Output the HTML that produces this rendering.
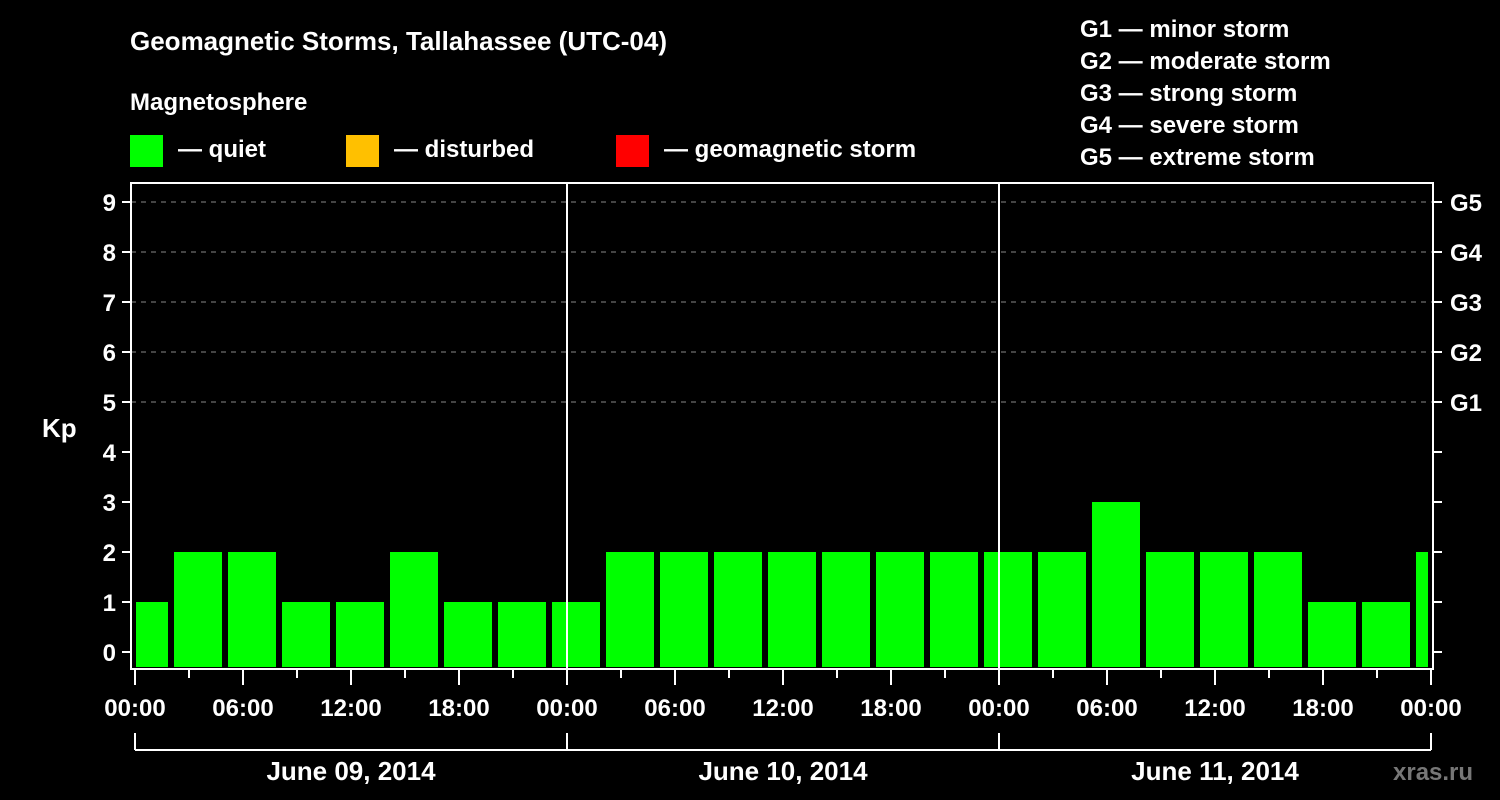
<!DOCTYPE html>
<html><head><meta charset="utf-8"><style>
html,body{margin:0;padding:0;background:#000;width:1500px;height:800px;overflow:hidden}
svg{display:block;font-family:"Liberation Sans",sans-serif;font-weight:bold}
</style></head><body>
<svg id="chart" width="1500" height="800" viewBox="0 0 1500 800">
<text x="130" y="50" fill="#fff" font-size="26">Geomagnetic Storms, Tallahassee (UTC-04)</text>
<text x="130" y="110" fill="#fff" font-size="24">Magnetosphere</text>
<g><rect x="130" y="135" width="33" height="32" fill="#00ff00"/><text x="178" y="157" fill="#fff" font-size="24">— quiet</text></g>
<g><rect x="346" y="135" width="33" height="32" fill="#ffc000"/><text x="394" y="157" fill="#fff" font-size="24">— disturbed</text></g>
<g><rect x="616" y="135" width="33" height="32" fill="#ff0000"/><text x="664" y="157" fill="#fff" font-size="24">— geomagnetic storm</text></g>
<g fill="#fff" font-size="24">
<text x="1080" y="37">G1 — minor storm</text>
<text x="1080" y="69">G2 — moderate storm</text>
<text x="1080" y="101">G3 — strong storm</text>
<text x="1080" y="133">G4 — severe storm</text>
<text x="1080" y="165">G5 — extreme storm</text>
</g>
<text x="42" y="437" fill="#fff" font-size="26">Kp</text>
<g id="grid"></g><g id="bars"></g><g id="axes"></g>
<text x="1393" y="780" fill="#777" font-size="24">xras.ru</text>
</svg>
<script>
const values=[1,2,2,1,1,2,1,1,1,2,2,2,2,2,2,2,2,2,3,2,2,2,1,1,2];
const yTicks=[0,1,2,3,4,5,6,7,8,9];
const gLabels=["G1","G2","G3","G4","G5"];
const dayLabels=["June 09, 2014","June 10, 2014","June 11, 2014"];
const hourLabels=["00:00","06:00","12:00","18:00"];
const NS="http://www.w3.org/2000/svg";
const X0=135,PXH=18,PL=131,PR=1433,PT=183,PB=669;
const x=h=>X0+h*PXH;
const y=v=>652-v*50;
function mk(p,t,a){const e=document.createElementNS(NS,t);for(const k in a)e.setAttribute(k,a[k]);p.appendChild(e);return e;}
const grid=document.getElementById('grid'),bars=document.getElementById('bars'),axes=document.getElementById('axes');
for(let v=5;v<=9;v++){const l=mk(grid,'line',{x1:PL,x2:PR,y1:y(v),y2:y(v),stroke:'#888','stroke-dasharray':'5,5','stroke-width':1});

}
values.forEach((v,i)=>{let l=x(-1+3*i)+3,r=x(2+3*i)-3;l=Math.max(l,PL+5);r=Math.min(r,PR-5);
const b=mk(bars,'rect',{x:l,y:y(v),width:r-l,height:PB-2-y(v),fill:v>=5?'#ff0000':(v>=4?'#ffc000':'#00ff00')});

});
for(let d=1;d<3;d++){const l=mk(axes,'line',{x1:x(24*d),x2:x(24*d),y1:PT,y2:PB,stroke:'#fff','stroke-width':2});

}
const fr=mk(axes,'rect',{x:PL,y:PT,width:PR-PL,height:PB-PT,fill:'none',stroke:'#fff','stroke-width':2});


yTicks.forEach(v=>{mk(axes,'line',{x1:122,x2:PL,y1:y(v),y2:y(v),stroke:'#fff','stroke-width':2});
mk(axes,'line',{x1:PR,x2:1442,y1:y(v),y2:y(v),stroke:'#fff','stroke-width':2});
const t=mk(axes,'text',{x:116,y:y(v)+9,fill:'#fff','font-size':24,'text-anchor':'end'});t.textContent=v;

});
gLabels.forEach((g,i)=>{const t=mk(axes,'text',{x:1450,y:y(5+i)+9,fill:'#fff','font-size':24});t.textContent=g;

});
for(let h=0;h<=72;h+=3){const maj=h%6==0;mk(axes,'line',{x1:x(h),x2:x(h),y1:PB,y2:maj?685:678,stroke:'#fff','stroke-width':2});
if(maj){const t=mk(axes,'text',{x:x(h),y:716,fill:'#fff','font-size':24,'text-anchor':'middle'});t.textContent=hourLabels[(h/6)%4];

}}
mk(axes,'line',{x1:x(0),x2:x(72),y1:750,y2:750,stroke:'#fff','stroke-width':2});
for(let d=0;d<=3;d++)mk(axes,'line',{x1:x(24*d),x2:x(24*d),y1:733,y2:750,stroke:'#fff','stroke-width':2});
dayLabels.forEach((s,i)=>{const t=mk(axes,'text',{x:x(24*i+12),y:780,fill:'#fff','font-size':26,'text-anchor':'middle'});t.textContent=s;

});
</script>
</body></html>
